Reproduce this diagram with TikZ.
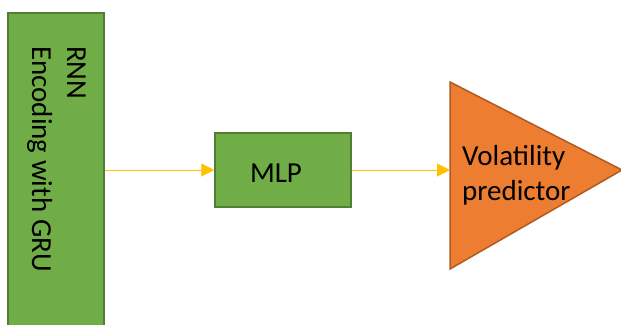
\documentclass[tikz,border=0pt]{standalone}
\usepackage{fontspec}
\setmainfont{Carlito}
\usetikzlibrary{arrows.meta}
\definecolor{boxgreen}{HTML}{70AD47}
\definecolor{boxgreenline}{HTML}{507E32}
\definecolor{predorange}{HTML}{ED7D31}
\definecolor{predline}{HTML}{AE5A21}
\definecolor{flowyellow}{HTML}{FFC000}
\begin{document}
\begin{tikzpicture}[x=1pt,y=-1pt,
  greenbox/.style={draw=boxgreenline,fill=boxgreen,line width=1.5pt},
  flow/.style={flowyellow,line width=1pt,-{Triangle[length=13pt,width=13pt]}},
  label/.style={font=\fontsize{29}{35}\selectfont,inner sep=0pt}]
\useasboundingbox (0,0) rectangle (621,324);
\clip (0,0) rectangle (621,324);

% encoder block
\node[greenbox,minimum width=96pt,minimum height=320pt,anchor=north west] (rnn) at (7,12) {};
\node[label,rotate=-90,align=left,anchor=north west] (rnntext) at (86,46) {RNN\\Encoding with GRU};

% mlp block
\node[greenbox,minimum width=136pt,minimum height=74pt] (mlp) at (283,170) {};
\node[label] (mlptext) at (276,173) {MLP};

% predictor triangle
\draw[fill=predorange,draw=predline,line width=1.5pt] (450,82) -- (622,170) -- (450,269) -- cycle;
\coordinate (pred) at (450,170);
\node[label,align=left,anchor=west] (predtext) at (462,175) {Volatility\\predictor};

% connectors
\draw[flow] (rnn.east |- mlp.west) -- (mlp.west);
\draw[flow] (mlp.east) -- (pred);
\end{tikzpicture}
\end{document}
